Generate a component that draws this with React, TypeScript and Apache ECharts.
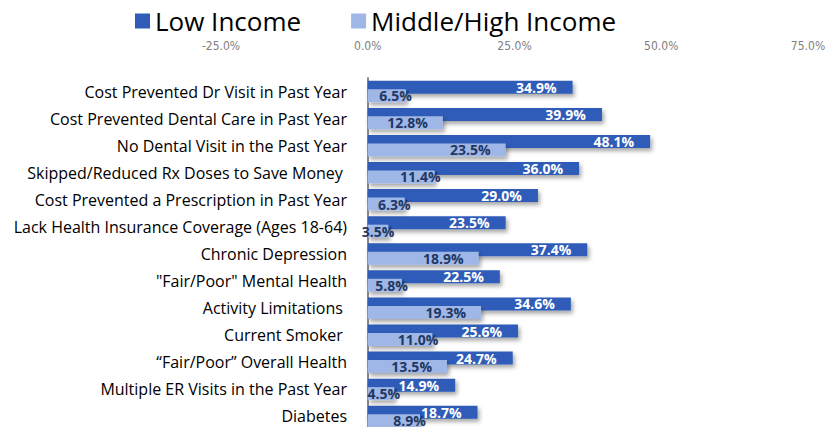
import React, { useEffect, useRef } from "react";
import * as echarts from "echarts";

const categories = [
  "Cost Prevented Dr Visit in Past Year",
  "Cost Prevented Dental Care in Past Year",
  "No Dental Visit in the Past Year",
  "Skipped/Reduced Rx Doses to Save Money ",
  "Cost Prevented a Prescription in Past Year",
  "Lack Health Insurance Coverage (Ages 18-64)",
  "Chronic Depression",
  "\"Fair/Poor\" Mental Health",
  "Activity Limitations ",
  "Current Smoker ",
  "\u201CFair/Poor\u201D Overall Health",
  "Multiple ER Visits in the Past Year",
  "Diabetes",
];

const lowIncome = [34.9, 39.9, 48.1, 36.0, 29.0, 23.5, 37.4, 22.5, 34.6, 25.6, 24.7, 14.9, 18.7];
const midHighIncome = [6.5, 12.8, 23.5, 11.4, 6.3, 3.5, 18.9, 5.8, 19.3, 11.0, 13.5, 4.5, 8.9];

const seriesNames = ["Low Income", "Middle/High Income"];
const axisMin = -25;
const axisMax = 75;
const axisStep = 25;

const LOW_COLOR = "#2f5cb8";
const MID_COLOR = "#9fb7e7";
const FONT = "'Open Sans', 'Noto Sans', sans-serif";

export default function App() {
  const ref = useRef<HTMLDivElement>(null);

  useEffect(() => {
    if (!ref.current) return;
    const chart = echarts.init(ref.current, null, { renderer: "svg" });
    const shadow = {
      shadowBlur: 4,
      shadowColor: "rgba(0,0,0,0.35)",
      shadowOffsetX: 2,
      shadowOffsetY: 3,
    };
    chart.setOption({
      animation: false,
      legend: {
        top: 3,
        left: 130,
        itemWidth: 15,
        itemHeight: 15,
        itemGap: 50,
        icon: "rect",
        textStyle: { fontSize: 26, color: "#000", fontFamily: FONT },
        data: seriesNames,
      },
      grid: {
        left: 221,
        right: 32,
        top: 78,
        height: 352,
        containLabel: false,
        outerBoundsMode: "none",
      },
      xAxis: {
        type: "value",
        position: "top",
        min: axisMin,
        max: axisMax,
        interval: axisStep,
        axisLine: { show: false },
        axisTick: { show: false },
        splitLine: { show: false },
        axisLabel: {
          margin: 26,
          fontSize: 12,
          color: "#808080",
          fontFamily: "'Liberation Sans Narrow', 'DejaVu Sans Condensed', sans-serif",
          formatter: (v: number) => `${v.toFixed(1)}%`,
        },
      },
      yAxis: {
        type: "category",
        inverse: true,
        data: categories,
        axisLine: { show: true, onZero: true, lineStyle: { color: "#8c8c8c", width: 2 } },
        axisTick: { show: false },
        axisLabel: { margin: -126, fontSize: 16, color: "#000", fontFamily: FONT },
      },
      series: [
        {
          name: seriesNames[0],
          type: "bar",
          data: lowIncome,
          barWidth: 13,
          barGap: "-35%",
          itemStyle: { color: LOW_COLOR, ...shadow },
          label: {
            show: true,
            position: "insideRight",
            distance: 16,
            color: "#fff",
            fontWeight: "bold",
            fontSize: 14,
            fontFamily: FONT,
            formatter: (p: any) => `${p.value.toFixed(1)}%`,
          },
        },
        {
          name: seriesNames[1],
          type: "bar",
          barWidth: 13,
          barGap: "-35%",
          data: midHighIncome.map((v) =>
            v < 12 ? { value: v, label: { offset: [21, 0] } } : v
          ),
          itemStyle: { color: MID_COLOR, ...shadow },
          label: {
            show: true,
            position: "insideRight",
            distance: 15,
            color: "#1f3864",
            fontWeight: "bold",
            fontSize: 14,
            fontFamily: FONT,
            formatter: (p: any) => `${Number(p.value).toFixed(1)}%`,
          },
        },
      ],
    });
    return () => chart.dispose();
  }, []);

  return (
    <div
      ref={ref}
      style={{ position: "fixed", left: 0, top: 0, width: 840, height: 427, background: "#fff" }}
    />
  );
}
